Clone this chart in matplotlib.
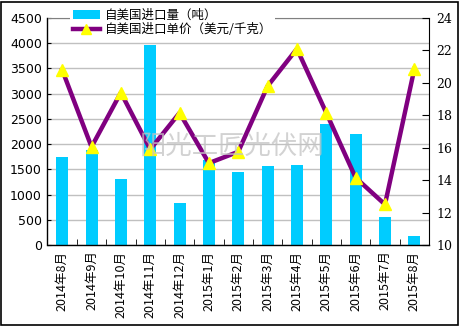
import matplotlib
matplotlib.use("Agg")
import matplotlib.pyplot as plt
from matplotlib.lines import Line2D
from matplotlib.patches import Patch, Rectangle
import numpy as np

plt.rcParams['font.family'] = ['Noto Sans CJK SC', 'DejaVu Sans']

categories = ["2014年8月", "2014年9月", "2014年10月", "2014年11月", "2014年12月",
              "2015年1月", "2015年2月", "2015年3月", "2015年4月", "2015年5月",
              "2015年6月", "2015年7月", "2015年8月"]
volume = [1750, 1880, 1310, 3960, 840, 1690, 1450, 1570, 1590, 2400, 2200, 556, 180]
price = [20.8, 16.05, 19.4, 15.9, 18.15, 15.05, 15.75, 19.8, 22.1, 18.15, 14.15, 12.5, 20.85]
left_ticks = [0, 500, 1000, 1500, 2000, 2500, 3000, 3500, 4000, 4500]
right_ticks = [10, 12, 14, 16, 18, 20, 22, 24]
label_vol = "自美国进口量（吨）"
label_price = "自美国进口单价（美元/千克）"

bar_color = "#00CCFF"
line_color = "#800080"

fig = plt.figure(figsize=(4.6, 3.26), dpi=100)
ax = fig.add_axes([47.5/460, 1-245/326, (429-47.5)/460, (245-18)/326])
x = np.arange(len(categories))
ax.bar(x, volume, width=0.41, color=bar_color, zorder=2)
ax.set_ylim(0, 4500)
ax.set_xlim(-0.5, len(categories)-0.5)
ax.set_yticks(left_ticks)
ax.set_yticklabels([str(v) for v in left_ticks], fontsize=9, family=['DejaVu Sans'])
ax.yaxis.grid(True, color="#c0c0c0", linewidth=1, zorder=0)
ax.set_axisbelow(True)
ax.set_xticks(x)
ax.set_xticklabels(categories, rotation=90, fontsize=9)
ax.set_xticks(np.arange(0.5, len(categories)-1, 1), minor=True)
ax.tick_params(axis='x', which='major', length=0, pad=4)
ax.tick_params(axis='x', which='minor', length=4, direction='in', color='black')
ax.tick_params(axis='y', length=3, direction='in', pad=4)
for s in ['left', 'bottom']:
    ax.spines[s].set_color('black')
    ax.spines[s].set_linewidth(1)
ax.spines['top'].set_color('#808080')
ax.spines['right'].set_visible(False)

ax2 = ax.twinx()
ax2.plot(x, price, color=line_color, linewidth=3.2, zorder=3)
ax2.plot(x, price, linestyle='none', marker='^', markersize=9, markerfacecolor='#FFFF00',
         markeredgecolor='#FFFF00', zorder=4)
ax2.set_ylim(10, 24)
ax2.set_yticks(right_ticks)
ax2.set_yticklabels([str(v) for v in right_ticks], fontsize=9, family=['DejaVu Serif'])
ax2.tick_params(axis='y', length=5, direction='in', pad=5)
ax2.spines['right'].set_color('black')
ax2.spines['top'].set_visible(False)
ax2.spines['left'].set_visible(False)
ax2.spines['bottom'].set_visible(False)

# watermark
fig.text(232/460, 1-146/326, "阳光工匠光伏网", fontsize=19, color='#c4c4c4', alpha=0.75,
         ha='center', va='center', zorder=10)

handles = [Patch(facecolor=bar_color, edgecolor='none'),
           Line2D([0], [0], color=line_color, linewidth=3.2, marker='^', markersize=7,
                  markerfacecolor='#FFFF00', markeredgecolor='#FFFF00')]
leg = fig.legend(handles, [label_vol, label_price], loc='upper left',
                 bbox_to_anchor=(70/460, 1-6/326), frameon=True, fontsize=9,
                 handlelength=2.2, handletextpad=0.4, labelspacing=0.15,
                 borderpad=0.2, borderaxespad=0)
leg.get_frame().set_edgecolor('none')
leg.get_frame().set_facecolor('white')
leg.get_frame().set_alpha(1)

fig.patches.append(Rectangle((1/460, 1/326), 457/460, 323/326, transform=fig.transFigure,
                             fill=False, edgecolor='black', linewidth=1.2))

fig.savefig("out.png", dpi=100)
